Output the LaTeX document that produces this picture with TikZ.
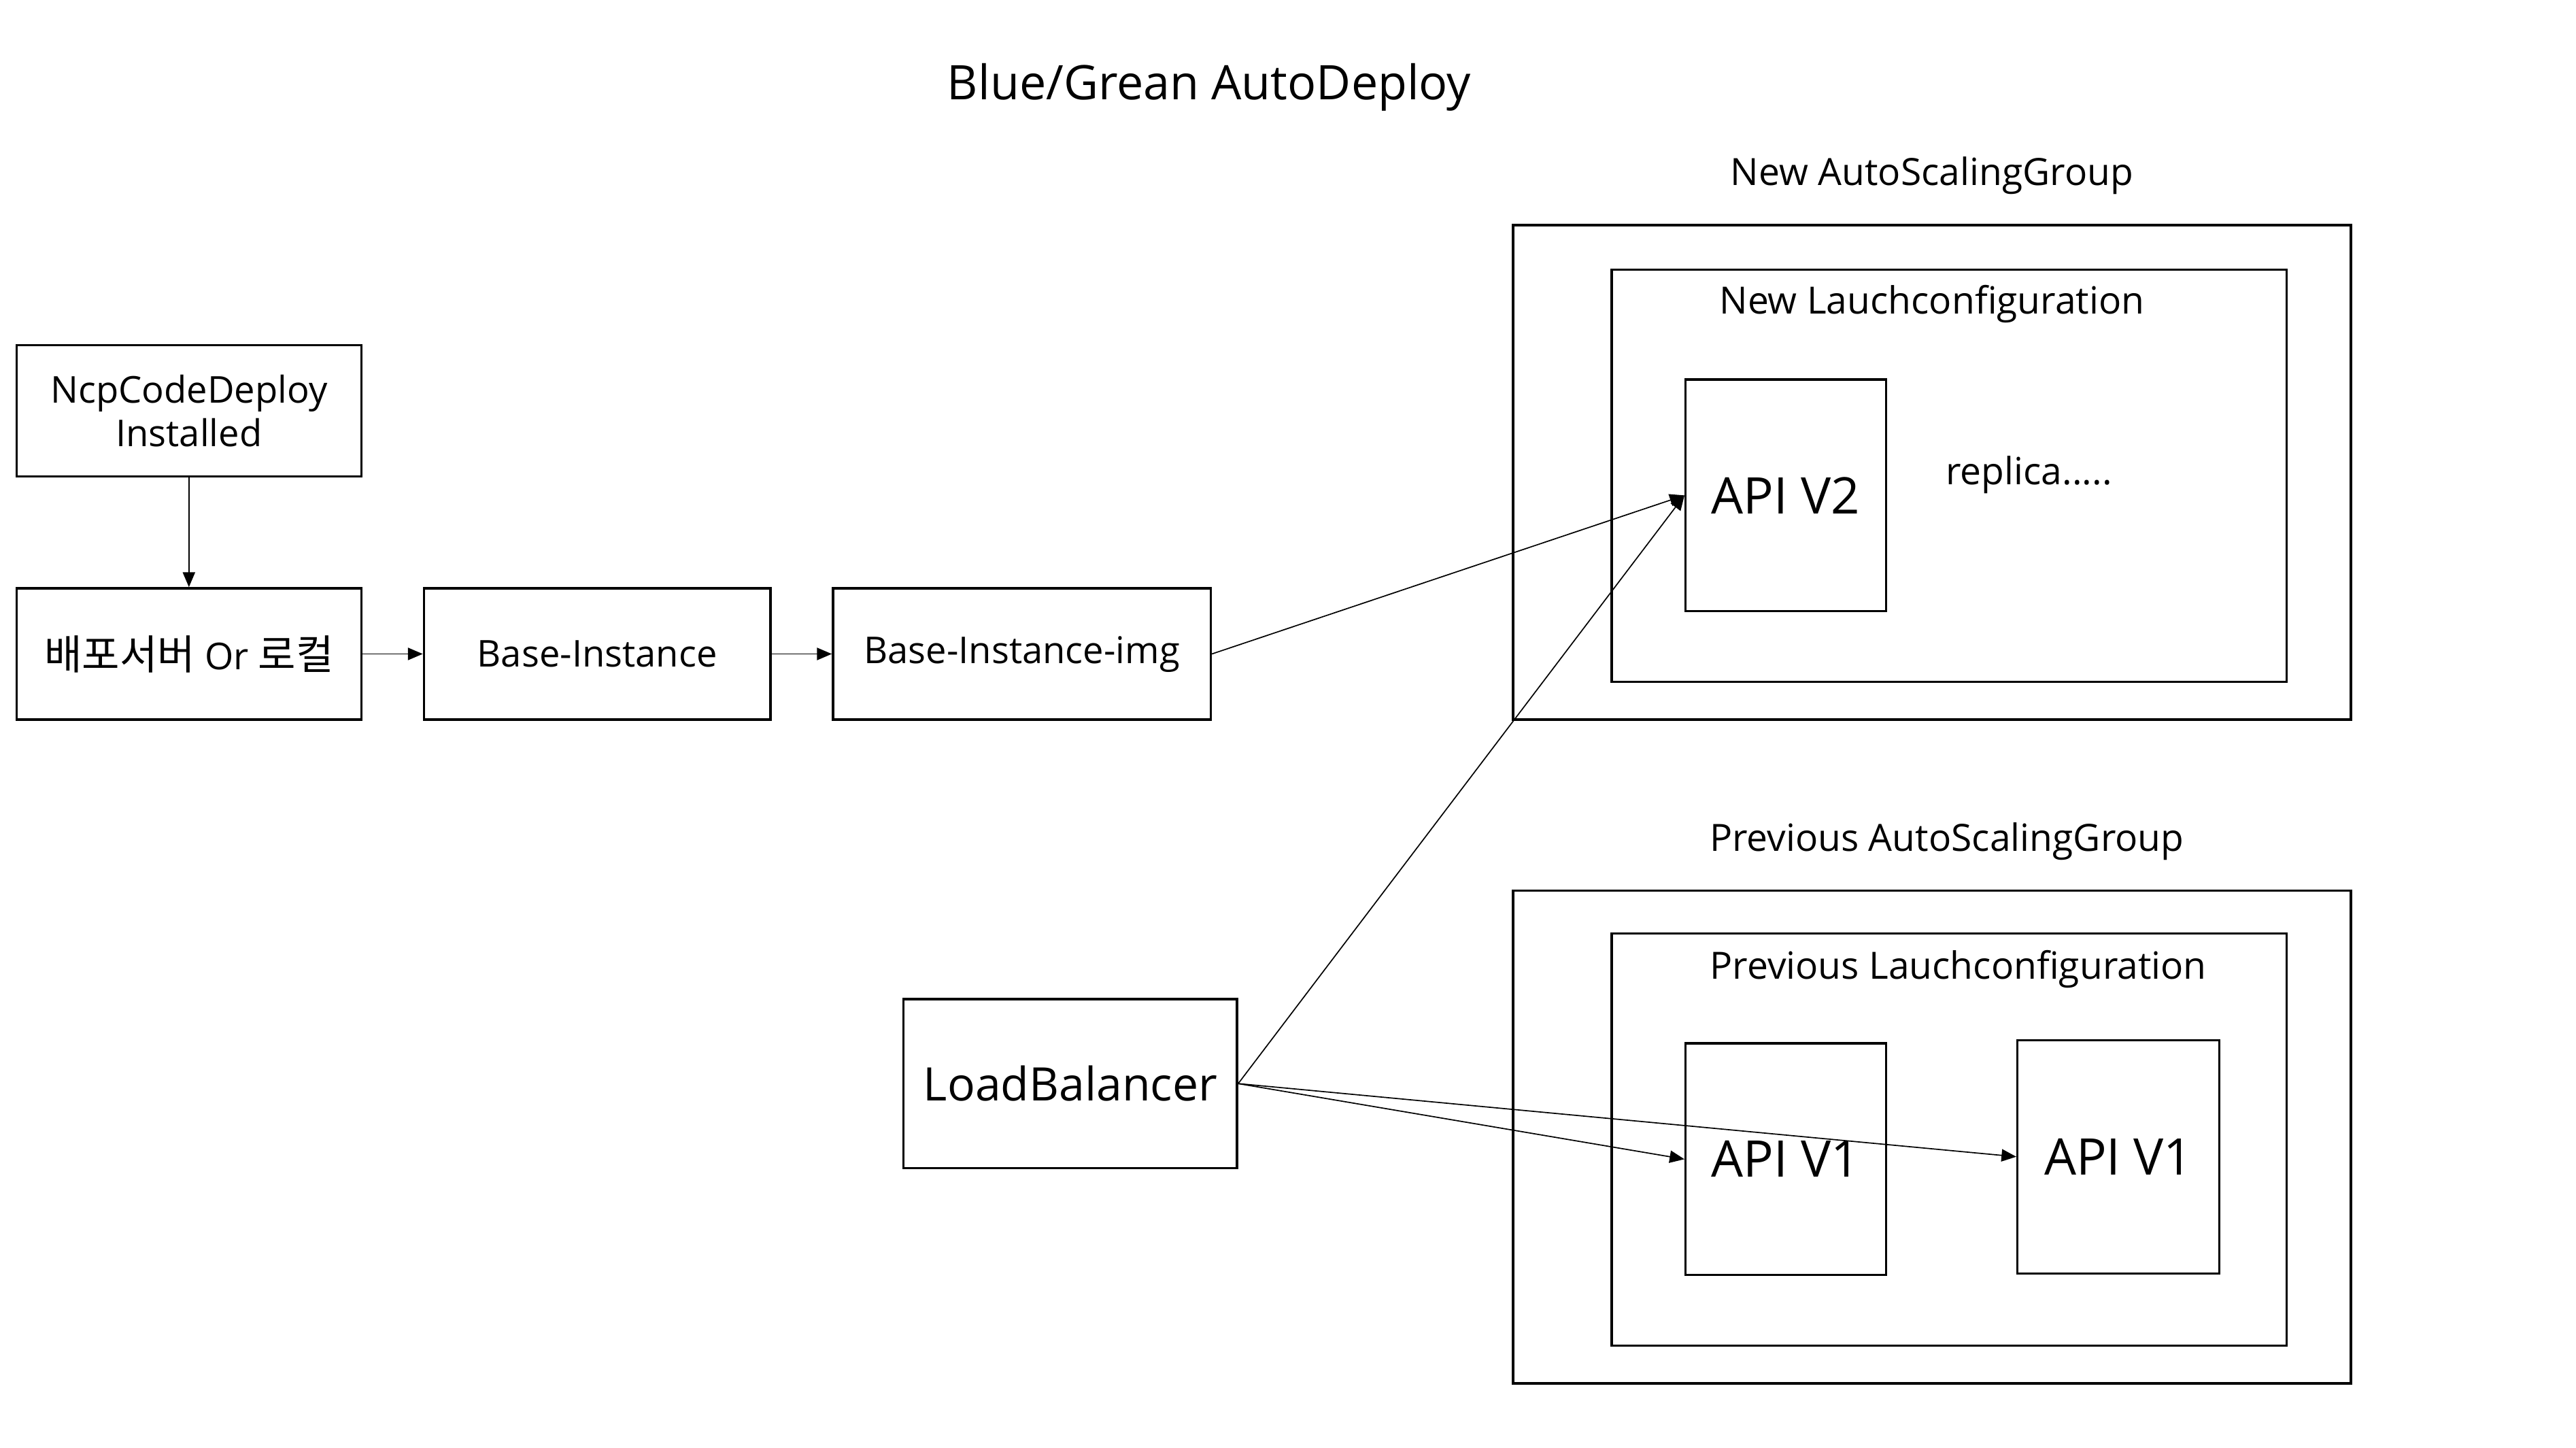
\documentclass[tikz,border=0pt]{standalone}
\usepackage{fontspec}
\setmainfont{Open Sans}
\newfontfamily\kor{Noto Sans CJK KR}
\newcommand\hangul[1]{{\kor\fontsize{14.2}{15}\selectfont #1}}
\usetikzlibrary{arrows.meta}
\tikzset{
  box/.style={draw, line width=0.8pt, minimum width=4.2cm, minimum height=1.6cm, font=\fontsize{12.8}{15}\selectfont, align=center},
  group/.style={draw, line width=0.8pt},
  api/.style={draw, line width=0.8pt, minimum width=2.44cm, minimum height=2.82cm, font=\fontsize{17.5}{20}\selectfont},
  lbl/.style={font=\fontsize{13}{15}\selectfont},
  link/.style={line width=0.4pt, -{Triangle[length=0.18cm, width=0.15cm]}}
}
\begin{document}
\begin{tikzpicture}[x=0.02cm, y=-0.02cm]
      \useasboundingbox (0, 0) rectangle (1568, 881);
      \node[font=\fontsize{16.5}{19}\selectfont] (title) at (736, 53) {Blue/Grean AutoDeploy};

      % left chain
      \node[box] (ncp) at (115, 250) {NcpCodeDeploy\\Installed};
      \node[box] (deploy) at (115, 398) {\hangul{배포서버} Or \hangul{로컬}};
      \node[box, minimum width=4.22cm] (base) at (363.5, 398) {Base-Instance};
      \node[box, minimum width=4.6cm, text depth=0.3em] (img) at (622, 398) {Base-Instance-img};
      \node[box, minimum width=4.06cm, minimum height=2.06cm, font=\fontsize{16}{20}\selectfont] (lb) at (651.5, 659.5) {LoadBalancer};

      % new group
      \node[lbl] (newasglbl) at (1176, 107) {New AutoScalingGroup};
      \node[group, minimum width=10.2cm, minimum height=6.02cm] (newasg) at (1176, 287.5) {};
      \node[group, minimum width=8.22cm, minimum height=5.02cm] (newlc) at (1186.5, 289.5) {};
      \node[lbl] (newlclbl) at (1176, 185) {New Lauchconfiguration};
      \node[api] (v2) at (1087, 301.5) {API V2};
      \node[lbl] (replica) at (1235, 289) {replica.....};

      % previous group
      \node[lbl] (oldasglbl) at (1185, 512) {Previous AutoScalingGroup};
      \node[group, minimum width=10.2cm, minimum height=6.0cm] (oldasg) at (1176, 692) {};
      \node[group, minimum width=8.22cm, minimum height=5.02cm] (oldlc) at (1186.5, 693.5) {};
      \node[lbl] (oldlclbl) at (1192, 590) {Previous Lauchconfiguration};
      \node[api] (v1a) at (1087, 705.5) {API V1};
      \node[api, minimum width=2.46cm, minimum height=2.84cm] (v1b) at (1289.5, 704) {API V1};

      \draw[link] (ncp) -- (deploy);
      \draw[link] (deploy) -- (base);
      \draw[link] (base) -- (img);
      \draw[link] (img.east) -- (v2.west);
      \draw[link] (lb.east) -- (v2.west);
      \draw[link] (lb.east) -- (v1a.west);
      \draw[link] (lb.east) -- (v1b.west);
    \end{tikzpicture}
\end{document}
